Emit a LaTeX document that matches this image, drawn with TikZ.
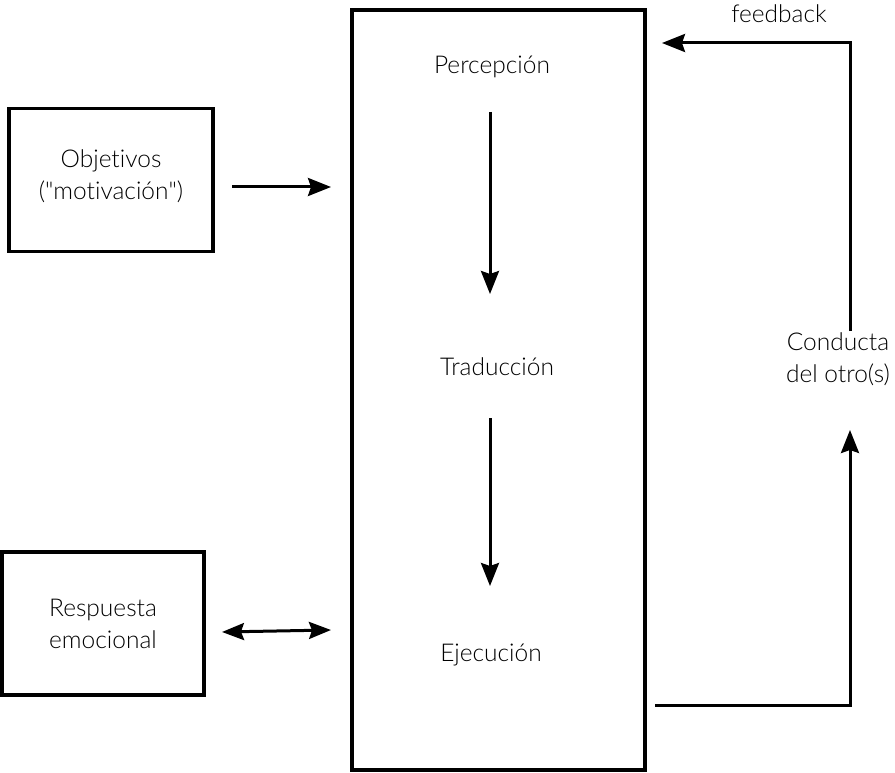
\documentclass[tikz,border=0pt]{standalone}
\usepackage{fontspec}
\setmainfont{Lato Light}[Ligatures={NoCommon,NoRare}]
\usetikzlibrary{arrows.meta}
\begin{document}
\begin{tikzpicture}[x=1pt,y=-1pt,
  box/.style={draw,line width=3.2pt,inner sep=0pt},
  lbl/.style={font=\fontsize{24.5}{32}\selectfont,align=center,inner sep=0pt},
  conn/.style={line width=3pt,-{Stealth[length=23pt,width=18pt,inset=3pt]}},
  dconn/.style={line width=3pt,{Stealth[length=22pt,width=17pt,inset=3pt]}-{Stealth[length=22pt,width=17pt,inset=3pt]}},
  line/.style={line width=3pt}]
\useasboundingbox (0,0) rectangle (895,773);
\fill[white] (0,0) rectangle (895,773);
% boxes
\node[box,minimum width=204pt,minimum height=143pt] (obj) at (111,180) {};
\node[box,minimum width=202pt,minimum height=143pt] (resp) at (103,623.5) {};
\node[box,minimum width=293pt,minimum height=760pt] (main) at (498.5,390) {};
% labels
\node[lbl] (objt) at (111,176) {Objetivos\\(\textquotedbl motivación\textquotedbl)};
\node[lbl] (respt) at (103,624) {Respuesta\\emocional};
\node[lbl] (perc) at (492,67) {Percepción};
\node[lbl] (trad) at (497,367) {Traducción};
\node[lbl] (ejec) at (491,655) {Ejecución};
\node[lbl] (cond) at (838,359) {Conducta\\del otro(s)};
\node[lbl] (fb) at (779,14) {feedback};
% coordinates
\coordinate (o1) at (232,187);
\coordinate (o2) at (331,187);
\coordinate (r1) at (222,632);
\coordinate (r2) at (331,630);
\coordinate (p1) at (490,112);
\coordinate (p2) at (490,294);
\coordinate (t1) at (490,418);
\coordinate (t2) at (490,586);
\coordinate (e1) at (655,705);
\coordinate (e2) at (850,705);
\coordinate (c1) at (850,430);
\coordinate (c2) at (850,331);
\coordinate (f1) at (850,43);
\coordinate (f2) at (662,43);
% connectors
\draw[conn] (o1) -- (o2);
\draw[dconn] (r1) -- (r2);
\draw[conn] (p1) -- (p2);
\draw[conn] (t1) -- (t2);
\draw[conn,line join=miter] (e1) -- (e2) -- (c1);
\draw[conn,line join=miter] (c2) -- (f1) -- (f2);
\end{tikzpicture}
\end{document}
